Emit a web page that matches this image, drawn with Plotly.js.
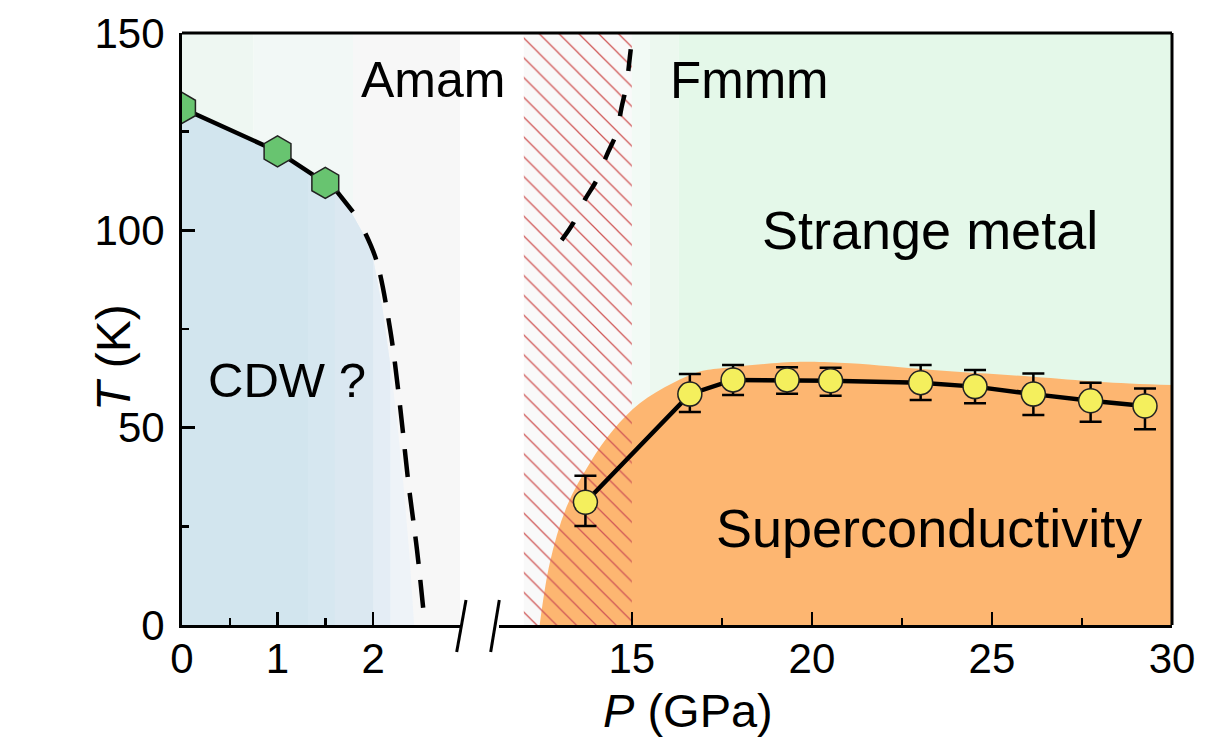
<!DOCTYPE html>
<html>
<head>
<meta charset="utf-8">
<script src="https://cdn.plot.ly/plotly-3.0.1.min.js"></script>
<style>html,body{margin:0;padding:0;background:#fff;}#chart{width:1223px;height:740px;}</style>
</head>
<body>
<div id="chart"></div>
<script>
// ---------- data ----------
// CDW transition (left, low-pressure axis)
const cdwP = [0, 1, 1.5];
const cdwT = [131, 120, 112];
const cdwSolidP = [0, 1, 1.5, 1.6, 1.79];
const cdwSolidT = [131, 120, 112, 110.5, 104.7];
const cdwDashP = [1.92, 2.04, 2.18, 2.28, 2.37, 2.46, 2.53];
const cdwDashT = [99.2, 92, 74.7, 56, 36, 19, 3];
// edge of the shaded CDW region
const cdwEdgeP = [0, 1, 1.32, 1.5, 1.6, 1.75, 1.9, 2.0, 2.1, 2.18, 2.25, 2.32, 2.38, 2.43];
const cdwEdgeT = [131, 120, 114.9, 112, 110.5, 105.5, 99, 93, 80, 66, 52, 35, 18, 0];

// superconducting Tc (right, high-pressure axis)
const scP = [13.71, 16.61, 17.81, 19.31, 20.52, 23.02, 24.53, 26.15, 27.74, 29.25];
const scT = [31.1, 58.5, 62.1, 62.1, 61.9, 61.4, 60.4, 58.5, 56.8, 55.5];
const scErrUp = [6.7, 5.1, 3.8, 3.2, 3.3, 4.5, 4.2, 5.2, 4.6, 4.4];
const scErrDown = [6.0, 4.5, 3.8, 3.5, 3.8, 4.4, 4.2, 5.3, 5.3, 5.9];
// superconducting dome boundary
const domeP = [12.44, 12.72, 13.19, 13.83, 14.48, 15.22, 16.14, 16.89, 17.53, 19.67, 21.06, 23.36, 26.14, 28.0, 30.0];
const domeT = [0, 15.7, 30, 41, 49.4, 56.2, 61.3, 64.2, 65.1, 66.7, 66.3, 64.6, 62.9, 61.6, 60.8];
// structural transition line (Amam -> Fmmm)
const structP = [13.05, 13.37, 13.69, 14.02, 14.30, 14.57, 14.71, 14.85, 14.94, 15.02];
const structT = [97.5, 101.8, 107.7, 112.7, 119, 124.6, 131, 136.8, 143.6, 150];
// mixed-phase (hatched) pressure window
const hatchP = [12, 15];

// tick labels
const leftTicks = [0, 1, 2];
const rightTicks = [15, 20, 25, 30];
const yTicks = [0, 50, 100, 150];

// ---------- styling ----------
const FONT = 'Liberation Sans, Arial, Helvetica, sans-serif';
const LEFT_RANGE = [0, 2.91];
const RIGHT_RANGE = [11.31, 30];
const Y_RANGE = [0, 150];

function slicePts(P, T, maxP) {
  const x = [], y = [];
  for (let i = 0; i < P.length; i++) if (P[i] <= maxP + 1e-9) { x.push(P[i]); y.push(T[i]); }
  return {x, y};
}

const traces = [];
// CDW region, drawn as layers fading to the right
const cdwLayers = [
  {cut: 2.43, color: '#eef3f8'},
  {cut: 2.18, color: '#e4edf5'},
  {cut: 2.0, color: '#dbe8f1'},
  {cut: 1.6, color: '#d6e7f0'},
  {cut: 1.32, color: '#d2e5ee'}
];
cdwLayers.forEach(l => {
  const s = slicePts(cdwEdgeP, cdwEdgeT, l.cut);
  traces.push({x: s.x, y: s.y, xaxis: 'x', yaxis: 'y', type: 'scatter', mode: 'lines',
    line: {width: 0, color: l.color}, fill: 'tozeroy', fillcolor: l.color, hoverinfo: 'skip', showlegend: false});
});
// superconducting dome
traces.push({x: domeP, y: domeT, xaxis: 'x2', yaxis: 'y', type: 'scatter', mode: 'lines',
  line: {width: 0, color: '#fdb671', shape: 'spline'}, fill: 'tozeroy', fillcolor: '#fdb671', hoverinfo: 'skip', showlegend: false});
// hatched window
traces.push({x: [hatchP[0], hatchP[1], hatchP[1], hatchP[0], hatchP[0]], y: [0, 0, 150, 150, 0],
  xaxis: 'x2', yaxis: 'y', type: 'scatter', mode: 'lines', line: {width: 0, color: 'rgba(0,0,0,0)'},
  fill: 'toself', fillcolor: 'rgba(0,0,0,0)',
  fillpattern: {shape: '\\', fgcolor: '#cf5656', bgcolor: 'rgba(0,0,0,0)', size: 14, solidity: 0.09},
  hoverinfo: 'skip', showlegend: false});
// lines
traces.push({x: cdwSolidP, y: cdwSolidT, xaxis: 'x', yaxis: 'y', type: 'scatter', mode: 'lines',
  line: {color: '#000', width: 4.5}, showlegend: false});
traces.push({x: cdwDashP, y: cdwDashT, xaxis: 'x', yaxis: 'y', type: 'scatter', mode: 'lines',
  line: {color: '#000', width: 4.5, dash: '28px,16px', shape: 'spline'}, showlegend: false});
traces.push({x: structP, y: structT, xaxis: 'x2', yaxis: 'y', type: 'scatter', mode: 'lines',
  line: {color: '#000', width: 4.5, dash: '22px,24px', shape: 'spline'}, showlegend: false});
// markers
traces.push({x: cdwP, y: cdwT, xaxis: 'x', yaxis: 'y', type: 'scatter', mode: 'markers',
  marker: {symbol: 'hexagon', size: 31, color: '#68c470', line: {color: '#222', width: 1.5}}, showlegend: false});
traces.push({x: scP, y: scT, xaxis: 'x2', yaxis: 'y', type: 'scatter', mode: 'lines+markers',
  line: {color: '#000', width: 4.5},
  marker: {symbol: 'circle', size: 24, color: '#f4ef5d', line: {color: '#222', width: 1.5}},
  error_y: {type: 'data', symmetric: false, array: scErrUp, arrayminus: scErrDown, color: '#000', thickness: 2.5, width: 11},
  showlegend: false});

const PL = 182, PR = 1172, PT = 33, PB = 625, W = 1223, H = 740;
const pw = PR - PL, ph = PB - PT;
const px2fx = px => (px - PL) / pw;
const py2fy = py => (PB - py) / ph;

const axCommon = {
  showline: true, linecolor: '#000', linewidth: 3, ticks: 'inside', ticklen: 13, tickwidth: 2.5, tickcolor: '#000',
  showgrid: false, zeroline: false, tickfont: {family: FONT, size: 42, color: '#000'}, fixedrange: true
};

const shapes = [
  // background bands (left axis)
  {type: 'rect', layer: 'below', xref: 'x', yref: 'y', x0: 0, x1: 0.75, y0: 0, y1: 150, fillcolor: '#eef7f2', line: {width: 0}},
  {type: 'rect', layer: 'below', xref: 'x', yref: 'y', x0: 0.75, x1: 1.79, y0: 0, y1: 150, fillcolor: '#f2f8f6', line: {width: 0}},
  {type: 'rect', layer: 'below', xref: 'x', yref: 'y', x0: 1.79, x1: 2.91, y0: 0, y1: 150, fillcolor: '#f7f7f7', line: {width: 0}},
  // background bands (right axis)
  {type: 'rect', layer: 'below', xref: 'x2', yref: 'y', x0: 12, x1: 15, y0: 0, y1: 150, fillcolor: '#f9f9f9', line: {width: 0}},
  {type: 'rect', layer: 'below', xref: 'x2', yref: 'y', x0: 15, x1: 15.5, y0: 0, y1: 150, fillcolor: '#f2faf5', line: {width: 0}},
  {type: 'rect', layer: 'below', xref: 'x2', yref: 'y', x0: 15.5, x1: 16.3, y0: 0, y1: 150, fillcolor: '#ecf8ef', line: {width: 0}},
  {type: 'rect', layer: 'below', xref: 'x2', yref: 'y', x0: 16.3, x1: 30, y0: 0, y1: 150, fillcolor: '#e4f8e9', line: {width: 0}},
  // frame top and right
  {type: 'line', layer: 'above', xref: 'paper', yref: 'paper', x0: 0, x1: 1, y0: 1, y1: 1, line: {color: '#000', width: 3}},
  {type: 'line', layer: 'above', xref: 'paper', yref: 'paper', x0: 1, x1: 1, y0: 0, y1: 1, line: {color: '#000', width: 3}},
  // axis break marks
  {type: 'line', layer: 'above', xref: 'paper', yref: 'paper', x0: px2fx(466), x1: px2fx(456.7), y0: py2fy(600), y1: py2fy(652), line: {color: '#000', width: 3}},
  {type: 'line', layer: 'above', xref: 'paper', yref: 'paper', x0: px2fx(499.3), x1: px2fx(490.7), y0: py2fy(600), y1: py2fy(652), line: {color: '#000', width: 3}}
];

const ann = (size) => ({family: FONT, size: size, color: '#000'});
const annotations = [
  {text: 'Amam', xref: 'x', yref: 'y', x: 2.63, y: 138.2, showarrow: false, font: ann(50)},
  {text: 'Fmmm', xref: 'x2', yref: 'y', x: 18.28, y: 138, showarrow: false, font: ann(51)},
  {text: 'Strange metal', xref: 'x2', yref: 'y', x: 23.28, y: 100, showarrow: false, font: ann(54)},
  {text: 'Superconductivity', xref: 'x2', yref: 'y', x: 23.26, y: 24.5, showarrow: false, font: ann(54)},
  {text: 'CDW ?', xref: 'x', yref: 'y', x: 1.10, y: 62, showarrow: false, font: ann(49)},
  {text: '<i>P</i> (GPa)', xref: 'paper', yref: 'paper', x: px2fx(688), y: py2fy(710), xanchor: 'center', yanchor: 'middle',
    showarrow: false, font: ann(47)},
  {text: '<i>T</i> (K)', xref: 'paper', yref: 'paper', x: px2fx(113), y: py2fy(358), xanchor: 'center', yanchor: 'middle',
    showarrow: false, textangle: -90, font: ann(48)}
];

const layout = {
  width: W, height: H,
  margin: {l: PL, r: W - PR, t: PT, b: H - PB, pad: 0},
  paper_bgcolor: '#fff', plot_bgcolor: 'rgba(0,0,0,0)',
  showlegend: false,
  font: {family: FONT, color: '#000'},
  xaxis: Object.assign({}, axCommon, {
    domain: [0, px2fx(460)], range: LEFT_RANGE, anchor: 'y',
    tickmode: 'array', tickvals: leftTicks, ticktext: leftTicks.map(String), ticklabelstandoff: -5,
    minor: {tickmode: 'array', tickvals: [0.5, 1.5], ticks: 'inside', ticklen: 7, tickwidth: 2.5, tickcolor: '#000', showgrid: false}
  }),
  xaxis2: Object.assign({}, axCommon, {
    domain: [px2fx(499), 1], range: RIGHT_RANGE, anchor: 'y',
    tickmode: 'array', tickvals: rightTicks, ticktext: rightTicks.map(String), ticklabelstandoff: -5,
    minor: {tickmode: 'array', tickvals: [17.5, 22.5, 27.5], ticks: 'inside', ticklen: 7, tickwidth: 2.5, tickcolor: '#000', showgrid: false}
  }),
  yaxis: Object.assign({}, axCommon, {
    domain: [0, 1], range: Y_RANGE, anchor: 'x',
    tickmode: 'array', tickvals: yTicks, ticktext: yTicks.map(String), ticklabelstandoff: 6,
    minor: {tickmode: 'array', tickvals: [25, 75, 125], ticks: 'inside', ticklen: 7, tickwidth: 2.5, tickcolor: '#000', showgrid: false}
  }),
  shapes: shapes,
  annotations: annotations
};

Plotly.newPlot('chart', traces, layout, {staticPlot: true, displayModeBar: false});
</script>
</body>
</html>
